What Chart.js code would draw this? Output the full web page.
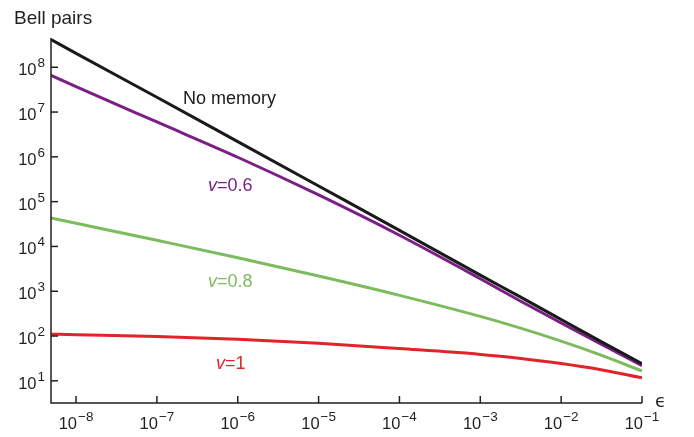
<!DOCTYPE html>
<html>
<head>
<meta charset="utf-8">
<script src="https://cdn.jsdelivr.net/npm/chart.js@4/dist/chart.umd.min.js"></script>
<style>
  html, body { margin: 0; padding: 0; background: #fff; }
  canvas { display: block; }
</style>
</head>
<body>
<canvas id="chart_content" width="694" height="437"></canvas>
<script>
// error rate (x) and number of Bell pairs per curve
var epsilon = [4.9e-9, 1e-8, 1e-7, 1e-6, 1e-5, 1e-4, 1e-3, 3e-3, 1e-2, 3e-2, 1e-1];
var noMemory = [4.17e8, 2.04e8, 2.14e7, 2.19e6, 2.24e5, 2.29e4, 2290, 776, 234, 78, 24];
var v06 = [6.6e7, 3.7e7, 6.0e6, 9.8e5, 1.41e5, 1.78e4, 1900, 631, 195, 68, 21.9];
var v08 = [4.33e4, 3.3e4, 1.37e4, 5600, 2180, 809, 274, 154, 76.9, 38.4, 16.6];
var v1 = [110, 107, 97.7, 85.1, 69.2, 52.5, 38.9, 32.1, 24.3, 17.9, 11.7];

var xTickExp = [-8, -7, -6, -5, -4, -3, -2, -1];
var yTickExp = [1, 2, 3, 4, 5, 6, 7, 8];

var axisColor = "#231f20";
var fontName = "'Liberation Sans', Arial, Helvetica, sans-serif";

function pts(ys) {
  var out = [];
  for (var i = 0; i < epsilon.length; i++) out.push({ x: epsilon[i], y: ys[i] });
  return out;
}

function power(ctx, exp, x, y, align) {
  // draws 10 with a raised exponent; align: "center" or "right"
  var base = "10";
  var sup = exp < 0 ? "\u2212" + Math.abs(exp) : String(exp);
  ctx.font = "16.5px " + fontName;
  var wb = ctx.measureText(base).width;
  ctx.font = "13.5px " + fontName;
  var ws = ctx.measureText(sup).width;
  var total = wb + 1 + ws;
  var left = align === "center" ? x - total / 2 : x - total;
  ctx.textAlign = "left";
  ctx.textBaseline = "alphabetic";
  ctx.font = "16.5px " + fontName;
  ctx.fillText(base, left, y);
  ctx.font = "13.5px " + fontName;
  ctx.fillText(sup, left + wb + 1, y - 8);
}

var axesPlugin = {
  id: "axesPlugin",
  afterDraw: function (chart) {
    var ctx = chart.ctx;
    var xs = chart.scales.x, ys = chart.scales.y;
    var a = chart.chartArea;
    ctx.save();
    ctx.strokeStyle = axisColor;
    ctx.fillStyle = axisColor;
    ctx.lineWidth = 1.5;
    ctx.beginPath();
    ctx.moveTo(a.left, a.top);
    ctx.lineTo(a.left, a.bottom);
    ctx.lineTo(a.right, a.bottom);
    ctx.stroke();

    xTickExp.forEach(function (e) {
      var px = xs.getPixelForValue(Math.pow(10, e));
      ctx.beginPath();
      ctx.moveTo(px, a.bottom);
      ctx.lineTo(px, a.bottom - 7);
      ctx.stroke();
      power(ctx, e, px, a.bottom + 26, "center");
    });
    yTickExp.forEach(function (e) {
      var py = ys.getPixelForValue(Math.pow(10, e));
      ctx.beginPath();
      ctx.moveTo(a.left, py);
      ctx.lineTo(a.left + 7, py);
      ctx.stroke();
      power(ctx, e, 45, py + 8, "right");
    });

    // axis titles
    ctx.textAlign = "left";
    ctx.font = "19px " + fontName;
    ctx.fillText("Bell pairs", 14, 24);
    ctx.font = "18px 'DejaVu Sans', " + fontName;
    ctx.fillText("\u03f5", 655, 407);

    // curve labels
    function vLabel(txt, color, x, y) {
      ctx.fillStyle = color;
      ctx.font = "italic 18px " + fontName;
      ctx.fillText("v", x, y);
      var w = ctx.measureText("v").width;
      ctx.font = "18px " + fontName;
      ctx.fillText(txt, x + w, y);
    }
    ctx.fillStyle = "#1a1a1a";
    ctx.font = "18px " + fontName;
    ctx.fillText("No memory", 183, 104);
    vLabel("=0.6", "#7b1f86", 208, 191);
    vLabel("=0.8", "#7cbb5e", 208, 287);
    vLabel("=1", "#e0242a", 216, 369);
    ctx.restore();
  }
};

function drawChart() {
  var canvasElement = document.getElementById("chart_content");
  var line = function (label, data, color) {
    return {
      label: label,
      data: pts(data),
      borderColor: color,
      borderWidth: 3,
      pointRadius: 0,
      fill: false,
      cubicInterpolationMode: "monotone",
    };
  };
  var config = {
    type: "line",
    data: {
      datasets: [
        line("No memory", noMemory, "#1a1a1a"),
        line("v=0.6", v06, "#7b1f86"),
        line("v=0.8", v08, "#7cbb5e"),
        line("v=1", v1, "#e0242a"),
      ],
    },
    options: {
      responsive: false,
      animation: false,
      layout: { padding: { left: 51, right: 52, top: 38, bottom: 34 } },
      plugins: { legend: { display: false }, tooltip: { enabled: false } },
      scales: {
        x: {
          type: "logarithmic",
          min: 4.9e-9,
          max: 0.1,
          grid: { display: false },
          border: { display: false },
          ticks: { display: false },
          afterFit: function (s) { s.height = 0; },
        },
        y: {
          type: "logarithmic",
          min: 3.2,
          max: 4.5e8,
          grid: { display: false },
          border: { display: false },
          ticks: { display: false },
          afterFit: function (s) { s.width = 0; },
        },
      },
    },
    plugins: [axesPlugin],
  };
  new Chart(canvasElement, config);
}

window.onload = function () {
  drawChart();
};
</script>
</body>
</html>
